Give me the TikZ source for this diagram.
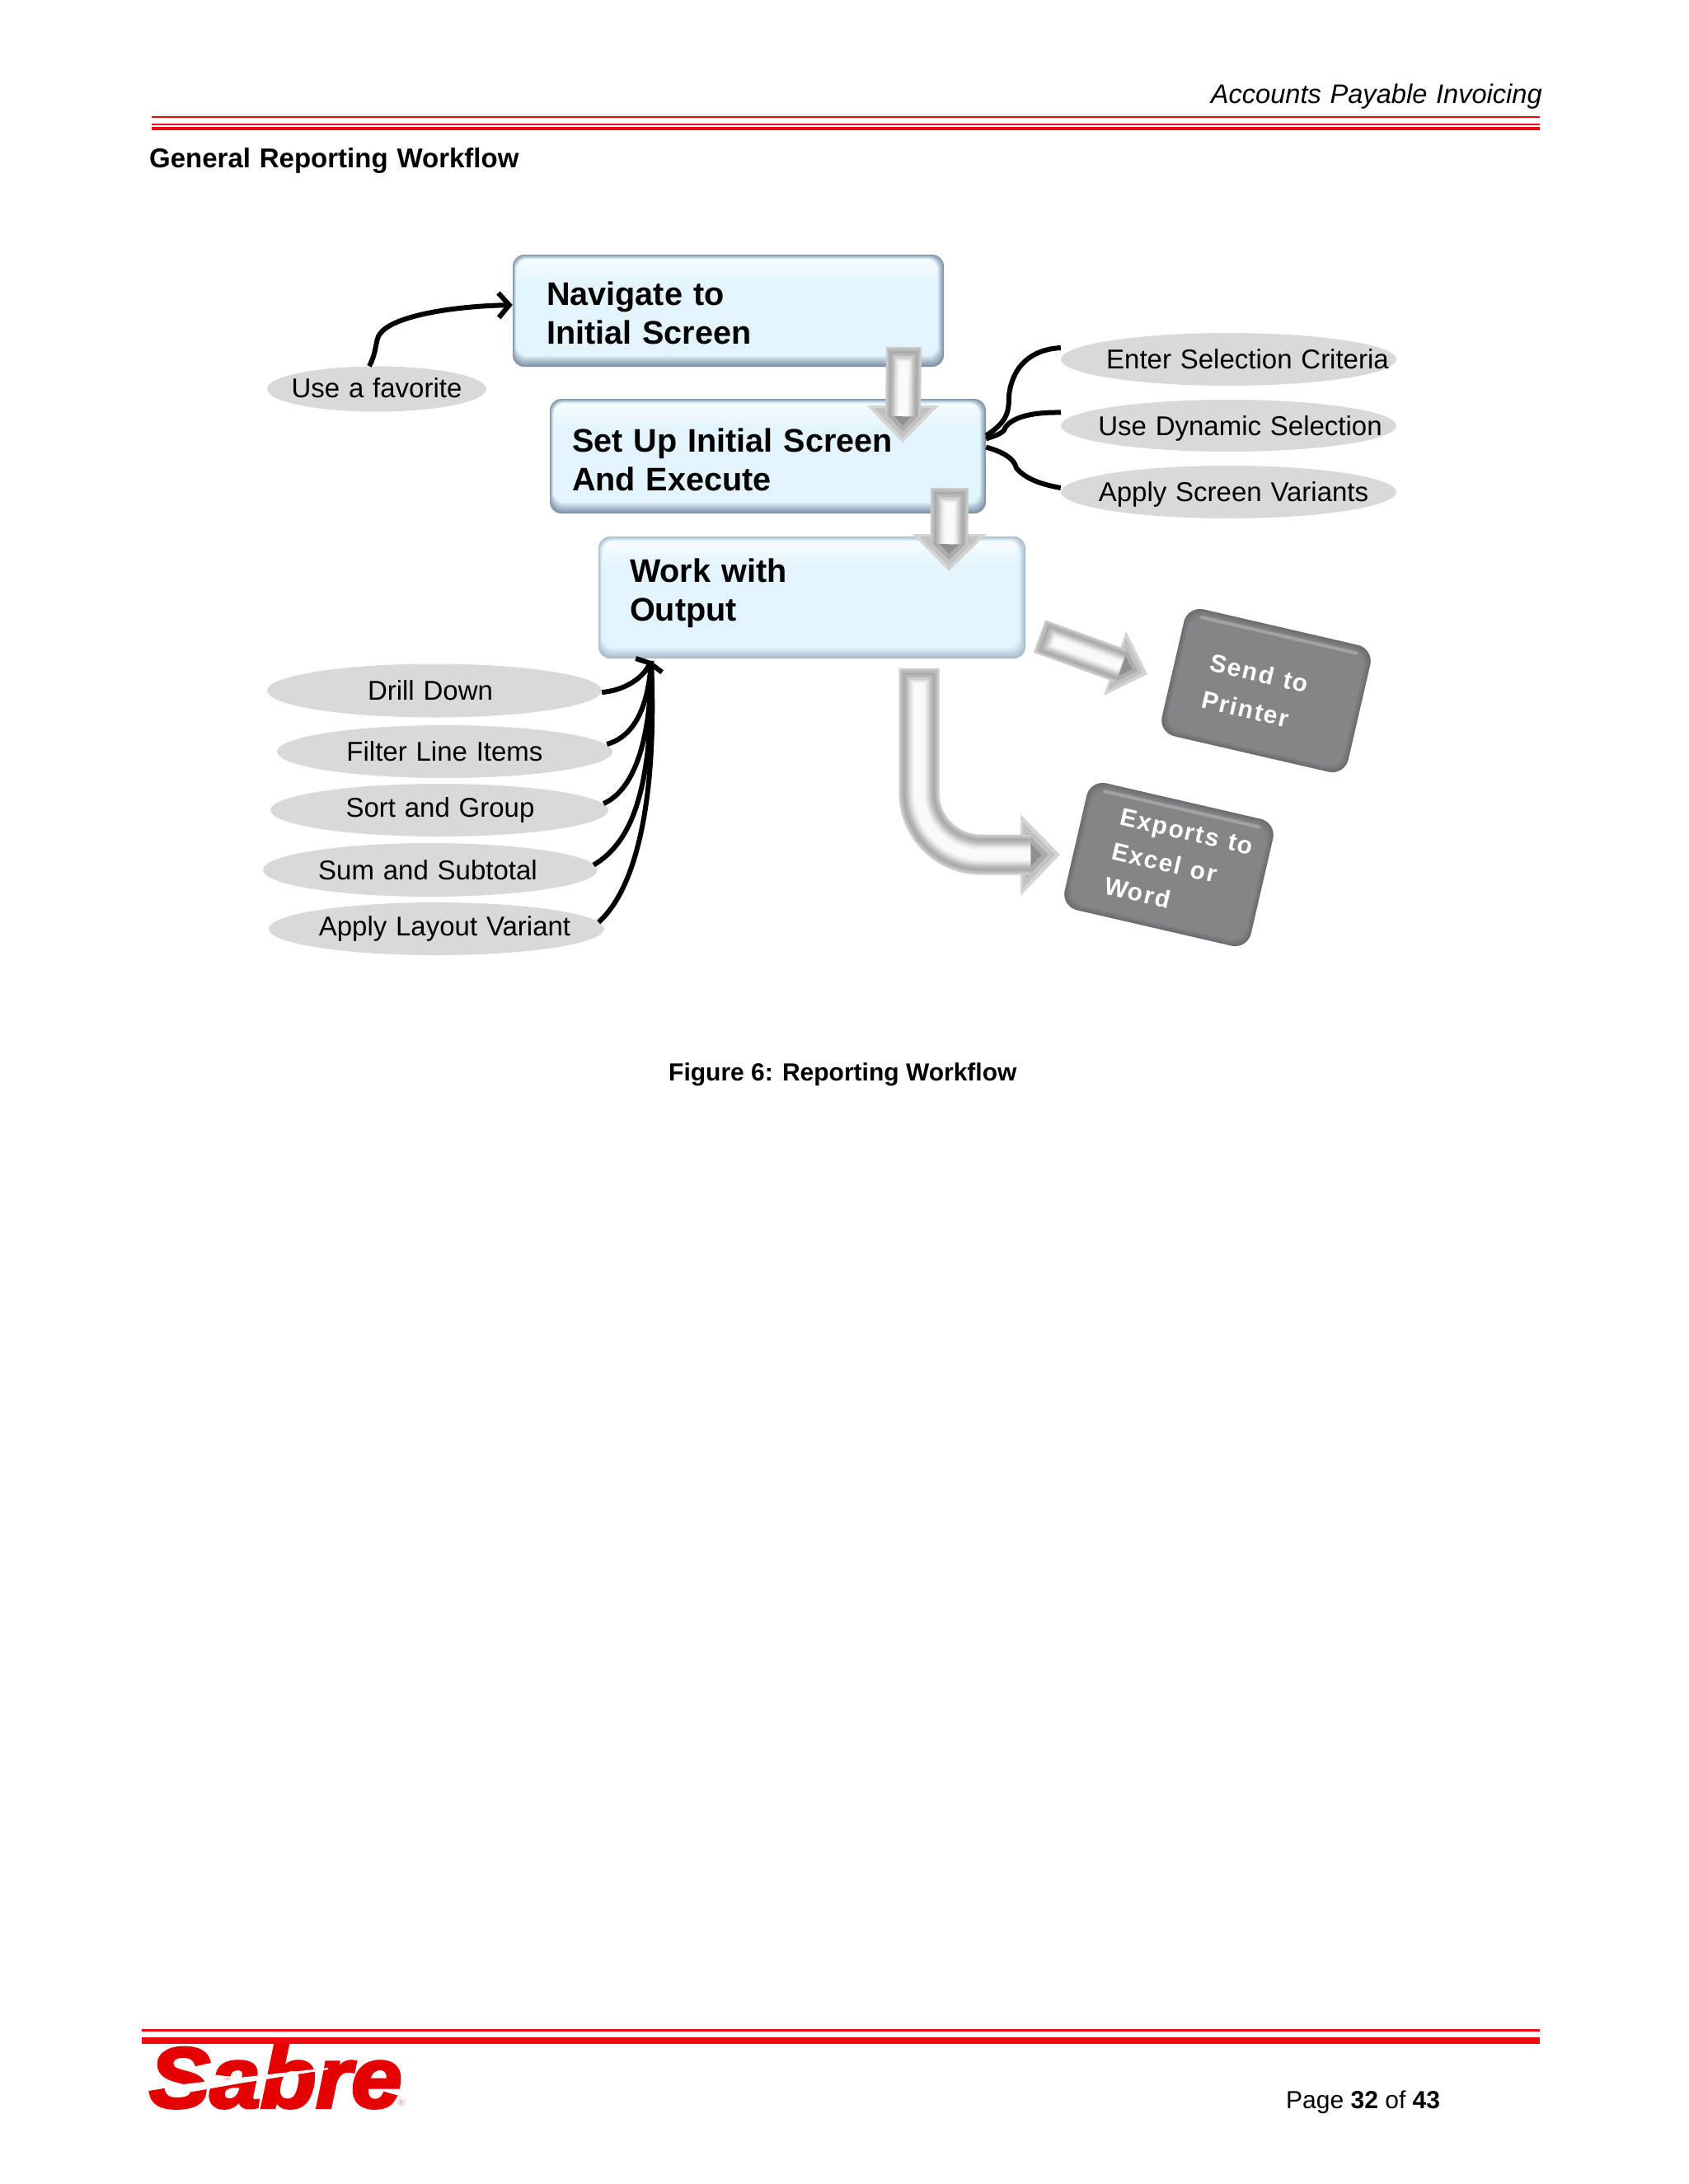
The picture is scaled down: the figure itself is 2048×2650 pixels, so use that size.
\documentclass[tikz,border=0pt]{standalone}
\usepackage{fontspec}
\setmainfont{Liberation Sans}[WordSpace=1.18]
\newfontfamily\plainsans{Liberation Sans}
\usetikzlibrary{shapes.geometric,arrows.meta,calc}
\definecolor{redline}{HTML}{F00A0F}
\definecolor{logored}{HTML}{E40000}
\definecolor{facecol}{HTML}{E3F4FD}
\definecolor{edgedark}{HTML}{7E92A8}
\definecolor{edgelite}{HTML}{A9BCCD}
\definecolor{ovalgray}{HTML}{D9D9DB}
\definecolor{slatedge}{HTML}{6C6C70}
\definecolor{slatface}{HTML}{858588}
\definecolor{slatlite}{HTML}{A2A2A5}
% bluebody{cx}{cy}{w}{h}{edge colour}
\newcommand\bluebody[5]{%
  \begin{scope}[shift={(#1,#2)},x=1pt,y=1pt]
    \foreach \i in {0,...,8}{%
      \pgfmathsetmacro\p{\i*12.5}
      \fill[rounded corners=14pt,facecol!\p!#5] ({-#3/2+0.5*\i},{#4/2-0.6*\i}) rectangle ({#3/2-0.9*\i},{-#4/2+1.6*\i});
    }
    \shade[rounded corners=8pt,top color=white!70!facecol,bottom color=facecol] ({-#3/2+6},{#4/2-6}) rectangle ({#3/2-9},{#4/2-36});
  \end{scope}}
% slatbody{cx}{cy}{w}{h}{angle}
\newcommand\slatbody[5]{%
  \begin{scope}[shift={(#1,#2)},x=1pt,y=1pt,rotate=#5]
    \foreach \i in {0,...,7}{%
      \pgfmathsetmacro\p{\i*14.28}
      \fill[rounded corners=20pt,slatface!\p!slatedge] ({-#3/2+\i},{#4/2-\i}) rectangle ({#3/2-\i},{-#4/2+\i});
    }
    \fill[rounded corners=2pt,slatlite] ({-#3/2+18},{#4/2-8}) rectangle ({#3/2-18},{#4/2-12});
  \end{scope}}
\newcommand\boxtext[4]{\makebox[#1pt][l]{\hspace{#2pt}\raisebox{#3pt}[0pt][0pt]{\begin{tabular}[c]{@{}l@{}}#4\end{tabular}}}}
\newcommand\ovaltext[3]{\makebox[0pt]{\hspace{#1pt}\raisebox{#2pt}{#3}}}
\newcommand\bevelshaft[2]{%
  \draw[line width=#1pt,color=black!20] #2;
  \draw[line width=0.9*#1pt,color=black!27,shorten <=2pt] #2;
  \draw[line width=0.8*#1pt,color=black!33,shorten <=5pt] #2;
  \draw[line width=0.68*#1pt,color=black!28,shorten <=8pt] #2;
  \draw[line width=0.56*#1pt,color=black!20,shorten <=11pt] #2;
  \draw[line width=0.46*#1pt,color=black!12,shorten <=14pt] #2;
  \draw[line width=0.36*#1pt,color=black!6,shorten <=16pt] #2;
  \draw[line width=0.26*#1pt,color=black!2,shorten <=18pt] #2;}
\newcommand\blockhead[3]{%
  \coordinate (hg) at (barycentric cs:#1=1,#2=1,#3=1);
  \fill[black!17] (#1) -- (#2) -- (#3) -- cycle;
  \fill[black!24] ($(hg)!.8!(#1)$) -- ($(hg)!.8!(#2)$) -- ($(hg)!.8!(#3)$) -- cycle;
  \fill[black!33] ($(hg)!.55!(#1)$) -- ($(hg)!.55!(#2)$) -- ($(hg)!.55!(#3)$) -- cycle;
  \fill[black!44] ($(hg)!.3!(#1)$) -- ($(hg)!.3!(#2)$) -- ($(hg)!.3!(#3)$) -- cycle;}
\tikzset{
  bluebox/.style n args={2}{rectangle,inner sep=0pt,minimum width=#1,minimum height=#2,font=\fontsize{39.6}{47}\selectfont\bfseries},
  slatbox/.style n args={3}{rectangle,inner sep=0pt,minimum width=#1,minimum height=#2,rotate=#3,text=white},
  oval/.style n args={2}{ellipse,fill=ovalgray,inner sep=0pt,minimum width=#1,minimum height=#2,
    font=\fontsize{33}{38}\selectfont,text height=24pt,text depth=7pt},
  wire/.style={line width=6pt,black},
  wirearrow/.style={line width=6pt,black,-{Straight Barb[length=13pt,width=30pt]}},
  hubarrow/.style={line width=6pt,black,-{Straight Barb[length=3pt,width=36pt]}},
  headtext/.style={inner sep=0pt},
}
\begin{document}
\begin{tikzpicture}[x=1pt,y=-1pt]
\useasboundingbox (0,0) rectangle (2048,2650);
% rules
\fill[redline] (184,140.5) rectangle (1868,143);
\fill[redline] (184,150) rectangle (1868,152);
\fill[redline] (184,153.5) rectangle (1868,158);
\fill[redline] (172,2461.5) rectangle (1868,2464.5);
\fill[redline] (172,2472) rectangle (1868,2479.5);
% header
\node[headtext,anchor=base east,font=\fontsize{32.6}{38}\selectfont] (hdr) at (1871,125) {\itshape Accounts Payable Invoicing};
\node[headtext,anchor=base west,font=\fontsize{33}{38}\selectfont] (ttl) at (181,203) {\bfseries General Reporting Workflow};
% blue boxes
\bluebody{883.5}{377}{523}{136}{edgedark}
\node[bluebox={523}{136}] (box1) at (883.5,377) {\boxtext{523}{41}{-14}{Navigate to\\Initial Screen}};
\bluebody{931.5}{553.5}{529}{139}{edgedark}
\node[bluebox={529}{139}] (box2) at (931.5,553.5) {\boxtext{529}{27}{-15}{Set Up Initial Screen\\And Execute}};
\bluebody{985}{725}{518}{148}{edgelite}
\node[bluebox={518}{148}] (box3) at (985,725) {\boxtext{518}{38}{-2}{Work with\\Output}};
% ovals
\node[oval={266}{55}] (fav) at (457,472) {\ovaltext{0}{-2}{Use a favorite}};
\node[oval={407}{64}] (crit) at (1490.5,436) {\ovaltext{46}{-3}{Enter Selection Criteria}};
\node[oval={407}{63}] (dyn) at (1490.5,516.5) {\ovaltext{28}{-3}{Use Dynamic Selection}};
\node[oval={407}{64}] (var) at (1490.5,597) {\ovaltext{12}{-3}{Apply Screen Variants}};
\node[oval={406}{65}] (drill) at (527,838) {\ovaltext{-10}{-3}{Drill Down}};
\node[oval={407}{64}] (filt) at (539.5,912) {\ovaltext{0}{-3}{Filter Line Items}};
\node[oval={410}{64}] (sort) at (533,983) {\ovaltext{2}{0}{Sort and Group}};
\node[oval={406}{65}] (sum) at (522,1055.5) {\ovaltext{-6}{-3}{Sum and Subtotal}};
\node[oval={407}{64}] (lay) at (529.5,1127) {\ovaltext{20}{0}{Apply Layout Variant}};
% wires
\draw[wirearrow] ([xshift=-9pt]fav.north) .. controls (458,425) and (455,412) .. (461,405) .. controls (475,385) and (540,372) .. ([yshift=7pt]box1.west);
\draw[wire] ([yshift=25pt]box2.east) .. controls (1222,512) and (1224,500) .. (1224,480) .. controls (1228,445) and (1250,424) .. ([yshift=14pt]crit.west);
\draw[wire] ([yshift=21pt]box2.east) .. controls (1212,527) and (1218,525) .. (1220,518) .. controls (1230,505) and (1255,500) .. ([yshift=16pt]dyn.west);
\draw[wire] ([yshift=11pt]box2.east) .. controls (1215,548) and (1230,555) .. (1233,568) .. controls (1245,582) and (1265,588) .. ([yshift=5pt]var.west);
\coordinate (hub) at (790,802);
\draw[wire] ([shift={(-7pt,9pt)}]filt.east) .. controls (762,896) and (786,870) .. (hub);
\draw[wire] ([shift={(-6pt,8pt)}]sort.east) .. controls (762,962) and (790,915) .. (hub);
\draw[wire] ([shift={(-5pt,6pt)}]sum.east) .. controls (770,1020) and (792,950) .. (hub);
\draw[wire] ([shift={(-7pt,8pt)}]lay.east) .. controls (775,1075) and (797,960) .. (hub);
\draw[hubarrow] ([yshift=-2pt]drill.east) .. controls (755,838) and (778,825) .. (hub);
% block arrows
\coordinate (a1s) at (1096.5,421); \coordinate (a1b) at (1095.5,505);
\coordinate (a1t) at (1095,537); \coordinate (a1l) at (1051.5,492); \coordinate (a1r) at (1139,492);
\blockhead{a1t}{a1l}{a1r}
\bevelshaft{43}{(a1s) -- (a1b)}
\coordinate (a2s) at (1152,592); \coordinate (a2b) at (1151.5,660);
\coordinate (a2t) at (1151,693); \coordinate (a2l) at (1107,648); \coordinate (a2r) at (1197,648);
\blockhead{a2t}{a2l}{a2r}
\bevelshaft{46}{(a2s) -- (a2b)}
\coordinate (a3s) at (1261,772); \coordinate (a3b) at (1360,808);
\coordinate (a3t) at (1392,818); \coordinate (a3l) at (1366,766); \coordinate (a3r) at (1339,844);
\blockhead{a3t}{a3l}{a3r}
\bevelshaft{42}{(a3s) -- (a3b)}
\coordinate (a4s) at (1115,811); \coordinate (a4c) at (1115,1037); \coordinate (a4b) at (1250,1037);
\coordinate (a4t) at (1286,1037); \coordinate (a4l) at (1238,988); \coordinate (a4r) at (1238,1087);
\blockhead{a4t}{a4l}{a4r}
\bevelshaft{49}{[rounded corners=75pt] (a4s) -- (a4c) -- (a4b)}
% slate boxes
\slatbody{1536}{838}{232}{158}{-13}
\node[slatbox={232}{158}{-13},font=\fontsize{30}{46}\selectfont\bfseries\addfontfeature{LetterSpace=6}] (print) at (1536,838) {\boxtext{232}{43}{-12}{Send to\\Printer}};
\slatbody{1418}{1049}{232}{158}{-13}
\node[slatbox={232}{158}{-13},font=\fontsize{30}{43}\selectfont\bfseries\addfontfeature{LetterSpace=6}] (excel) at (1418,1049) {\boxtext{232}{46}{-7}{Exports to\\Excel or\\Word}};
% caption
\node[anchor=base west,inner sep=0pt,font=\plainsans\fontsize{30}{36}\selectfont\bfseries] (cap) at (811,1311) {Figure 6: Reporting Workflow};
% footer
\node[anchor=base west,inner sep=0pt,font=\plainsans\fontsize{30}{36}\selectfont] (pg) at (1560,2558) {Page \textbf{32} of \textbf{43}};
\node[anchor=base west,inner sep=0pt,text=logored,font=\fontsize{104}{110}\selectfont\bfseries\itshape\addfontfeature{FakeBold=3.5}] (logo) at (181,2557) {\scalebox{1.06}[1]{Sabre}};
\fill[white] (205,2531) -- (290,2521) -- (398,2509) -- (398,2511) -- (290,2528) -- (205,2543) -- cycle;
\node[inner sep=0pt,text=logored!50,font=\fontsize{11}{12}\selectfont] (reg) at (487,2552) {®};
\end{tikzpicture}
\end{document}
